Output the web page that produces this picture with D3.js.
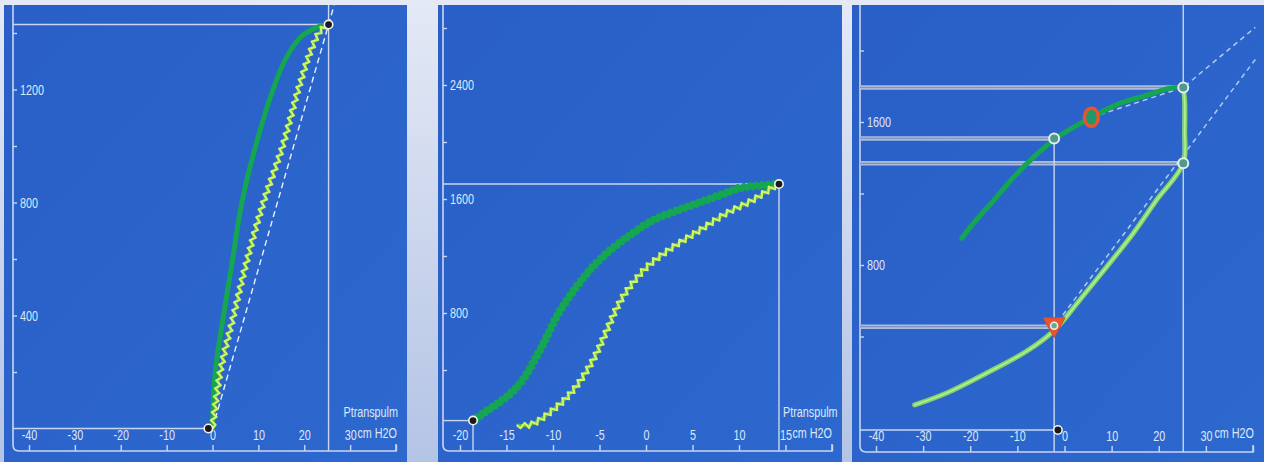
<!DOCTYPE html>
<html>
<head>
<meta charset="utf-8">
<script src="https://cdn.jsdelivr.net/npm/d3@7"></script>
<style>
  html, body { margin: 0; padding: 0; }
  body { width: 1264px; height: 462px; overflow: hidden; background: linear-gradient(#e4e9f5, #b4c4e5); }
  svg { display: block; }
  text { font-family: "Liberation Sans", sans-serif; fill: #dde7f8; }
</style>
</head>
<body>
<svg id="chart" width="1264" height="462"></svg>
<script>
// ---------- Panel A : pressure (cmH2O) vs volume (mL) ----------
const aXTicks = [-40, -30, -20, -10, 0, 10, 20, 30, 40];
const aXLabels = [-40, -30, -20, -10, 0, 10, 20, 30];
const aYTicks = [200, 400, 600, 800, 1000, 1200, 1400];
const aYLabels = [400, 800, 1200];
const aDeflation = [[0, 0], [0.6, 200], [2.4, 400], [4.4, 600], [6.4, 800], [9.4, 1000], [13.2, 1200], [16, 1310], [19.2, 1385], [22.5, 1418], [25.3, 1430]];
const aInflation = [[0, 0], [1.7, 200], [4.6, 400], [7.6, 600], [11.1, 800], [15.3, 1000], [18.7, 1200], [21.5, 1340], [23.5, 1408], [25.3, 1430]];
const aChord = [[0, 0], [26.5, 1498]];
const aStart = [-0.9, 0];
const aEnd = [25.3, 1430];

// ---------- Panel B ----------
const bXTicks = [-20, -15, -10, -5, 0, 5, 10, 15, 20];
const bXLabels = [-20, -15, -10, -5, 0, 5, 10, 15];
const bYTicks = [400, 800, 1200, 1600, 2000, 2400, 2800];
const bYLabels = [800, 1600, 2400];
const bDeflation = [[-18.6, 40], [-17.2, 110], [-15.4, 190], [-13.5, 309], [-11.4, 540], [-9.2, 821], [-6.3, 1081], [-4.2, 1221], [-1.4, 1361], [0.8, 1453], [4.4, 1544], [8.0, 1628], [10.1, 1677], [13.0, 1698], [14.3, 1705]];
const bInflation = [[-13.9, 14], [-12.5, 14], [-10, 119], [-7.8, 260], [-5.7, 470], [-4.2, 680], [-3.1, 842], [-2.0, 961], [0.1, 1123], [2.9, 1263], [5.8, 1382], [8.7, 1502], [11.5, 1593], [13.7, 1684], [14.3, 1705]];
const bStart = [-18.6, 45];
const bEnd = [14.3, 1705];

// ---------- Panel C ----------
const cXTicks = [-40, -30, -20, -10, 0, 10, 20, 30, 40];
const cXLabels = [-40, -30, -20, -10, 0, 10, 20, 30];
const cYTicks = [400, 800, 1200, 1600, 2000];
const cYLabels = [800, 1600];
const cInflation = [[-31.8, 17], [-25.0, 84], [-16.5, 196], [-8.7, 307], [-3.8, 397], [-1.1, 464], [3.2, 603], [8.9, 788], [14.6, 978], [19.5, 1162], [25.2, 1369], [25.5, 1550], [25.5, 1720], [25.2, 1793]];
const cDeflation = [[25.2, 1793], [22.2, 1788], [17.4, 1749], [11.7, 1704], [5.7, 1626], [1.9, 1570], [-1.9, 1508], [-6.6, 1402], [-10.8, 1291], [-15.0, 1162], [-19.3, 1034], [-21.8, 950]];
const cChordLow = [[-1.5, 480], [40.5, 1950]];
const cChordHigh = [[5.7, 1626], [25.2, 1793], [40.5, 2130]];
const cTopPoint = [25.2, 1793];
const cMidPoint = [25.2, 1369];
const cUpperInflection = [-2.2, 1508];
const cLowerInflection = [-2.2, 455];
const cUpperMarker = [5.7, 1626];
const cOrigin = [-1.4, -123];

// ------------------------------------------------------------
const svg = d3.select("#chart");
const defs = svg.append("defs");
const grad = defs.append("linearGradient").attr("id", "panelFill").attr("x1", 0).attr("x2", 1).attr("y1", 0).attr("y2", 1);
grad.append("stop").attr("offset", 0).attr("stop-color", "#295fc6");
grad.append("stop").attr("offset", 1).attr("stop-color", "#2d68cf");

const AXIS = "#c9d6f0";
const DARK = "#14a650";
const LIGHT = "#d2f466";
const SQUEEZE = 0.72;   // horizontal compression for the monitor's narrow lettering
const FONT = 15;

const line = d3.line().curve(d3.curveCatmullRom.alpha(0.5));

// condense text horizontally around its own x position
function narrow(sel) {
  sel.each(function () {
    const t = d3.select(this);
    const x = +t.attr("x") || 0;
    t.attr("x", x / SQUEEZE).attr("transform", `scale(${SQUEEZE},1)`);
  });
}

function zigzag(d, amp, step) {
  const tmp = svg.append("path").attr("d", d);
  const node = tmp.node();
  const L = node.getTotalLength();
  const pts = [];
  let i = 0;
  for (let s = 0; s <= L; s += step, i++) {
    const p = node.getPointAtLength(s);
    const a = node.getPointAtLength(Math.max(0, s - 0.6));
    const b = node.getPointAtLength(Math.min(L, s + 0.6));
    const dx = b.x - a.x, dy = b.y - a.y, n = Math.hypot(dx, dy) || 1;
    const o = i === 0 ? 0 : (i % 2 ? amp : -amp);
    pts.push([p.x - dy / n * o, p.y + dx / n * o]);
  }
  tmp.remove();
  return d3.line()(pts);
}

function panel(cfg) {
  const g = svg.append("g");
  g.append("rect").attr("x", cfg.left).attr("y", 5).attr("width", cfg.right - cfg.left).attr("height", 462 - 5)
    .attr("fill", "url(#panelFill)");
  const x = d3.scaleLinear().domain(cfg.xDomain).range(cfg.xRange);
  const y = d3.scaleLinear().domain(cfg.yDomain).range(cfg.yRange);
  const ax = cfg.axisX, base = cfg.baseY;

  // axis frame: left line, rounded corner, bottom line
  g.append("path")
    .attr("d", `M${ax},5 V${base - 6} Q${ax},${base} ${ax + 6},${base} H${cfg.xRange[1]} V${base - 7}`)
    .attr("fill", "none").attr("stroke", AXIS).attr("stroke-width", 1.6);

  // x ticks (upward) and labels
  const xa = d3.axisTop(x).tickValues(cfg.xTicks).tickSize(6).tickPadding(5)
    .tickFormat(v => cfg.xLabels.includes(v) ? String(v) : "");
  const xg = g.append("g").attr("transform", `translate(0,${base})`).call(xa);
  xg.select(".domain").remove();
  xg.selectAll(".tick line").attr("stroke", AXIS).attr("stroke-width", 1.4);
  xg.selectAll(".tick text").attr("fill", "#dde7f8").attr("font-size", FONT)
    .attr("font-family", "Liberation Sans, sans-serif").call(narrow);

  // y ticks (rightward) and labels
  const ya = d3.axisRight(y).tickValues(cfg.yTicks).tickSize(4).tickPadding(3)
    .tickFormat(v => cfg.yLabels.includes(v) ? String(v) : "");
  const yg = g.append("g").attr("transform", `translate(${ax},0)`).call(ya);
  yg.select(".domain").remove();
  yg.selectAll(".tick line").attr("stroke", AXIS).attr("stroke-width", 1.4);
  yg.selectAll(".tick text").attr("fill", "#dde7f8").attr("font-size", FONT)
    .attr("font-family", "Liberation Sans, sans-serif").call(narrow);

  return { g, x, y, ax, base };
}

function hline(P, yv, x1) {
  P.g.append("line").attr("x1", P.ax).attr("x2", P.x(x1)).attr("y1", P.y(yv)).attr("y2", P.y(yv))
    .attr("stroke", AXIS).attr("stroke-width", 1.4);
}
function vline(P, xv, yTop) {
  P.g.append("line").attr("x1", P.x(xv)).attr("x2", P.x(xv)).attr("y1", yTop).attr("y2", P.base)
    .attr("stroke", AXIS).attr("stroke-width", 1.4);
}
function endMarker(P, pt) {
  P.g.append("circle").attr("cx", P.x(pt[0])).attr("cy", P.y(pt[1])).attr("r", 4.2)
    .attr("fill", "#1b1b1b").attr("stroke", "#f2f2f2").attr("stroke-width", 1.6);
}
function label(P, txt, xPix, yPix, anchor) {
  P.g.append("text").attr("x", xPix).attr("y", yPix).attr("text-anchor", anchor || "end")
    .attr("font-size", FONT).text(txt).call(narrow);
}

// ================= Panel A =================
const A = panel({ left: 4, right: 407, axisX: 13, baseY: 451,
  xDomain: [-40, 40], xRange: [29, 396], yDomain: [0, 1400], yRange: [428.5, 33],
  xTicks: aXTicks, xLabels: aXLabels, yTicks: aYTicks, yLabels: aYLabels });
hline(A, aEnd[1], aEnd[0]);
vline(A, aEnd[0], 5);
hline(A, aStart[1], aStart[0]);
A.g.append("path").attr("d", line(aChord.map(d => [A.x(d[0]), A.y(d[1])])))
  .attr("fill", "none").attr("stroke", "#e8f0ff").attr("stroke-width", 1.4).attr("stroke-dasharray", "6,4");
A.g.append("path").attr("d", line(aDeflation.map(d => [A.x(d[0]), A.y(d[1])])))
  .attr("fill", "none").attr("stroke", DARK).attr("stroke-width", 5).attr("stroke-linecap", "round");
const aInfD = line(aInflation.map(d => [A.x(d[0]), A.y(d[1])]));
A.g.append("path").attr("d", aInfD).attr("fill", "none").attr("stroke", "#4cb548").attr("stroke-width", 2.5);
A.g.append("path").attr("d", zigzag(aInfD, 2.6, 4)).attr("fill", "none").attr("stroke", LIGHT)
  .attr("stroke-width", 2.2).attr("stroke-linejoin", "round");
endMarker(A, aStart);
endMarker(A, aEnd);
label(A, "Ptranspulm", 398, 417);
label(A, "cm H2O", 397, 438);

// ================= Panel B =================
const B = panel({ left: 438, right: 842, axisX: 443, baseY: 451,
  xDomain: [-20, 20], xRange: [460, 832], yDomain: [0, 2800], yRange: [427, 28],
  xTicks: bXTicks, xLabels: bXLabels, yTicks: bYTicks, yLabels: bYLabels });
hline(B, bEnd[1], bEnd[0]);
vline(B, bEnd[0], B.y(bEnd[1]));
hline(B, bStart[1], bStart[0]);
vline(B, bStart[0], B.y(bStart[1]));
const bDefD = line(bDeflation.map(d => [B.x(d[0]), B.y(d[1])]));
B.g.append("path").attr("d", zigzag(bDefD, 1.3, 3)).attr("fill", "none").attr("stroke", DARK)
  .attr("stroke-width", 6).attr("stroke-linejoin", "round").attr("stroke-linecap", "round");
const bInfD = line(bInflation.map(d => [B.x(d[0]), B.y(d[1])]));
B.g.append("path").attr("d", bInfD).attr("fill", "none").attr("stroke", "#55b84a").attr("stroke-width", 3);
B.g.append("path").attr("d", zigzag(bInfD, 2.8, 4)).attr("fill", "none").attr("stroke", LIGHT)
  .attr("stroke-width", 2.2).attr("stroke-linejoin", "round");
endMarker(B, bStart);
endMarker(B, bEnd);
label(B, "Ptranspulm", 783, 417, "start");
label(B, "cm H2O", 832, 438);

// ================= Panel C =================
const C = panel({ left: 852, right: 1264, axisX: 860, baseY: 452,
  xDomain: [-40, 40], xRange: [876, 1253], yDomain: [0, 1600], yRange: [408, 122],
  xTicks: cXTicks, xLabels: cXLabels, yTicks: cYTicks, yLabels: cYLabels });

// double reference lines
function dline(P, yv, x1) {
  P.g.append("line").attr("x1", P.ax).attr("x2", P.x(x1)).attr("y1", P.y(yv)).attr("y2", P.y(yv))
    .attr("stroke", "#aebbd6").attr("stroke-width", 4.5);
  P.g.append("line").attr("x1", P.ax).attr("x2", P.x(x1)).attr("y1", P.y(yv)).attr("y2", P.y(yv))
    .attr("stroke", "#7d94c8").attr("stroke-width", 1.2);
}
dline(C, cTopPoint[1], cTopPoint[0]);
dline(C, cUpperInflection[1], cUpperInflection[0]);
dline(C, cMidPoint[1], cMidPoint[0]);
dline(C, cLowerInflection[1], cLowerInflection[0]);
vline(C, cTopPoint[0], 5);
vline(C, cUpperInflection[0], C.y(cUpperInflection[1]));
hline(C, cOrigin[1], cOrigin[0]);

[cChordLow, cChordHigh].forEach(ch => {
  C.g.append("path").attr("d", d3.line()(ch.map(d => [C.x(d[0]), C.y(d[1])])))
    .attr("fill", "none").attr("stroke", "#dfe9fb").attr("stroke-width", 1.5).attr("stroke-dasharray", "5,4")
    .attr("opacity", 0.75);
});

const cInfD = line(cInflation.map(d => [C.x(d[0]), C.y(d[1])]));
C.g.append("path").attr("d", cInfD)
  .attr("fill", "none").attr("stroke", "#7fd46a").attr("stroke-width", 5).attr("stroke-linecap", "round");
C.g.append("path").attr("d", cInfD)
  .attr("fill", "none").attr("stroke", "#b6f08e").attr("stroke-width", 1.6).attr("stroke-linecap", "round");
C.g.append("path").attr("d", line(cDeflation.map(d => [C.x(d[0]), C.y(d[1])])))
  .attr("fill", "none").attr("stroke", DARK).attr("stroke-width", 5).attr("stroke-linecap", "round");

function ring(P, pt) {
  P.g.append("circle").attr("cx", P.x(pt[0])).attr("cy", P.y(pt[1])).attr("r", 5)
    .attr("fill", "#4f9a88").attr("stroke", "#e4ecf6").attr("stroke-width", 2);
}
ring(C, cTopPoint);
ring(C, cMidPoint);
ring(C, cUpperInflection);

// red ring on the deflation limb
C.g.append("ellipse").attr("cx", C.x(cUpperMarker[0])).attr("cy", C.y(cUpperMarker[1])).attr("rx", 7).attr("ry", 9)
  .attr("fill", "#1e9a6a").attr("stroke", "#e8552c").attr("stroke-width", 3.5);

// red triangle at the lower inflection point
const tx = C.x(cLowerInflection[0]), ty = C.y(cLowerInflection[1]);
C.g.append("path").attr("d", `M${tx - 11},${ty - 9} L${tx + 11},${ty - 9} L${tx},${ty + 11} Z`)
  .attr("fill", "#e8562c").attr("stroke", "#d9482a").attr("stroke-width", 1);
C.g.append("circle").attr("cx", tx).attr("cy", ty - 1).attr("r", 3.5).attr("fill", "#6aa890").attr("stroke", "#eef2f8").attr("stroke-width", 1.5);

endMarker(C, cOrigin);
label(C, "cm H2O", 1254, 438);
</script>
</body>
</html>
